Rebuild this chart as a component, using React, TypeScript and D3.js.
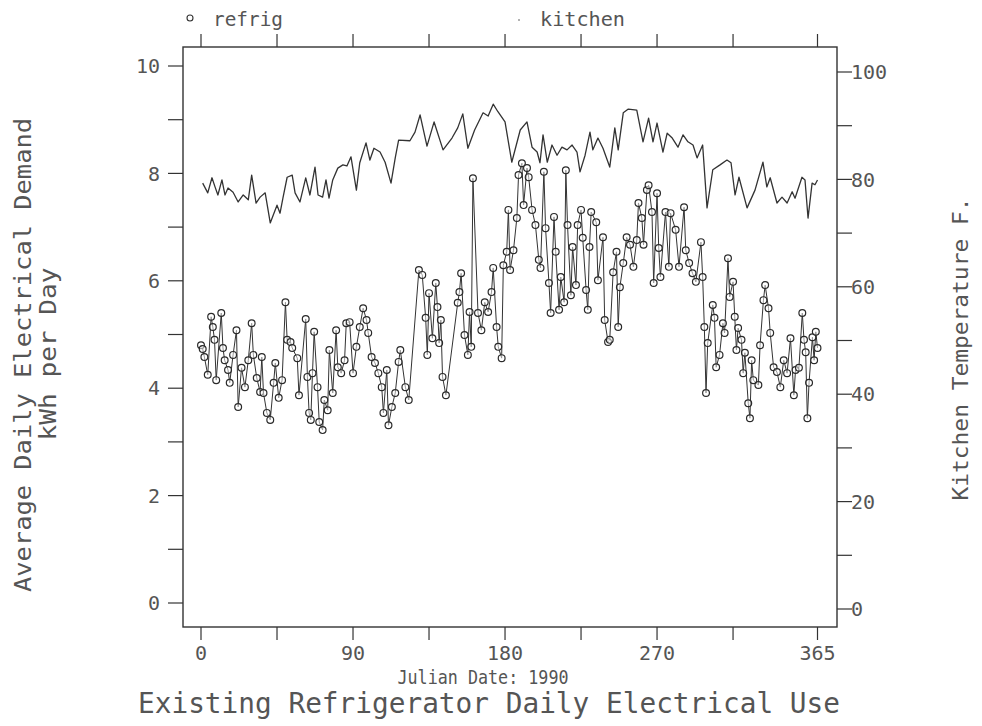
import React from "react";
import * as d3 from "d3";

// Kitchen temperature (deg F) by Julian day
const kitchenDays = [1,4,6.5,8.3,10,12.4,14.2,16,19,22,25,28,30,32.6,35,38,41,45,46.8,48.5,51,54,55.7,58.6,62,64.5,67.5,69.3,72,74,75.8,78,81,84,86.4,88.8,92,94,97.7,100,102.4,106,109,112.5,115,117,123.7,126.7,129.7,133.8,138,143.3,148.6,152,155,158,162,167,170,173,175.8,180,184,189,193,196,199,200.7,202.5,205,207.8,210.8,213.7,216.7,219.7,222.6,224.4,227.4,230.3,232,235,238,242,245,247,250,253,258,261.7,265,267.6,270,273.5,276,279,282.4,285.4,288.3,291.3,293.7,297,299.6,303,307.3,311.4,313.8,316.2,318.5,323.3,328,332.7,335,337,341,344,347,350,351.7,355.8,357.6,359.4,361.8,363.5,365];
const kitchenTemps = [79.3,77.5,80.3,78.6,77.1,79.9,77.1,78.4,77.6,75.8,77.1,76.2,80.8,75.6,76.7,77.5,71.9,75.2,73.7,76.5,80.4,80.8,77.5,75.8,80.3,77.1,82.3,77.1,76.7,79.9,76.5,79.9,82.1,82.7,82.5,84.2,78.0,83.1,86.8,83.6,85.8,85.1,83.2,79.3,84.0,87.3,87.2,88.8,92.0,86.2,90.7,85.5,87.7,89.6,92.2,85.8,89.2,92.4,91.8,94.0,92.6,90.7,83.2,89.2,90.7,86.0,85.1,83.1,88.3,83.2,86.4,84.5,86.0,85.5,86.4,85.1,81.4,84.5,88.8,85.5,87.7,85.8,82.3,89.6,85.5,92.4,93.1,92.9,87.0,91.4,87.0,90.5,85.1,88.6,87.7,86.0,88.3,87.0,86.4,84.0,86.4,74.7,81.8,82.7,83.6,83.1,77.1,80.4,74.7,78.0,83.2,78.6,80.3,75.6,76.7,75.6,77.7,76.5,80.4,79.9,72.8,79.3,79.0,79.9];

// Refrigerator average daily electrical demand (kWh/day) by Julian day
const refrigDays = [0,1,2,4,6,7,8,9,12,13,14,16,17,19,21,22,24,26,28,30,31,33,35,36,37,39,41,43,44,46,48,50,51,53,54,57,58,62,63,64,65,66,67,69,70,72,73,75,76,78,80,81,83,85,86,88,90,92,94,96,98,99,101,103,105,107,108,110,111,113,115,117,118,121,123,129,131,133,134,135,137,139,140,141,142,143,145,152,153,154,156,158,159,160,161,164,166,168,170,172,173,175,176,178,179,181,182,183,185,187,188,190,191,193,194,196,198,200,201,203,204,206,207,209,210,212,213,215,216,217,219,220,222,223,225,226,228,229,230,231,234,235,238,239,241,242,244,246,247,248,250,252,254,256,258,259,261,262,264,265,267,268,270,271,272,275,277,278,281,283,286,287,289,291,293,296,297,298,299,300,303,304,305,307,309,310,312,313,315,316,317,318,320,321,322,324,325,326,327,330,331,333,334,336,337,339,341,343,345,347,349,351,352,354,356,357,358,359,360,362,363,364,365];
const refrigKwh = [4.80,4.73,4.58,4.25,5.33,5.14,4.90,4.15,5.40,4.75,4.52,4.34,4.10,4.62,5.08,3.65,4.38,4.02,4.52,5.21,4.62,4.19,3.93,4.58,3.91,3.54,3.41,4.10,4.47,3.82,4.15,5.60,4.90,4.86,4.75,4.56,3.87,5.29,4.21,3.54,3.41,4.28,5.05,4.02,3.37,3.22,3.78,3.59,4.71,3.91,5.08,4.39,4.28,4.52,5.21,5.23,4.28,4.77,5.14,5.49,5.27,5.03,4.58,4.47,4.28,4.02,3.54,4.34,3.31,3.65,3.91,4.49,4.71,4.02,3.78,6.20,6.11,5.31,4.62,5.77,4.93,5.96,5.51,4.84,5.27,4.21,3.87,5.59,5.79,6.14,4.99,4.62,5.42,4.77,7.91,5.40,5.08,5.60,5.42,5.79,6.24,5.14,4.77,4.56,6.29,6.54,7.32,6.20,6.57,7.17,7.97,8.19,7.41,8.10,7.93,7.32,7.04,6.39,6.24,8.03,6.98,5.96,5.40,7.19,6.54,5.46,6.07,5.60,8.06,7.04,5.73,6.63,5.92,7.04,7.32,6.80,5.83,5.46,6.63,7.28,7.09,6.01,6.81,5.27,4.86,4.90,6.16,6.54,5.14,5.88,6.33,6.81,6.67,6.26,6.76,7.45,7.17,6.67,7.69,7.78,7.28,5.96,7.63,6.61,6.07,7.28,6.26,7.26,6.95,6.26,7.37,6.57,6.33,6.14,5.98,6.72,6.07,5.14,3.91,4.84,5.55,5.31,4.39,4.62,5.21,5.03,6.42,5.70,5.98,5.33,4.71,5.12,4.90,4.28,4.66,3.72,3.44,4.52,4.15,4.06,4.80,5.64,5.92,5.49,5.03,4.39,4.30,4.02,4.52,4.28,4.93,3.87,4.34,4.38,5.40,4.90,4.67,3.44,4.10,4.95,4.52,5.05,4.75];

const leftTicks = [0, 2, 4, 6, 8, 10];
const leftMinor = [1, 3, 5, 7, 9];
const rightTicks = [0, 20, 40, 60, 80, 100];
const rightMinor = [10, 30, 50, 70, 90];
const xLabelTicks = [0, 90, 180, 270, 365];
const xAllTicks = [0, 45, 90, 135, 180, 225, 270, 315, 365];

const FONT = "'DejaVu Sans Mono', 'Liberation Mono', monospace";
const TXT = "#555";
const INK = "#333";

export default function App() {
  const W = 982, H = 726;
  const frame = { l: 183, r: 837, t: 47, b: 627 };
  const x = d3.scaleLinear().domain([0, 365]).range([201, 817.5]);
  const yL = d3.scaleLinear().domain([0, 10]).range([603, 66]);
  const yR = d3.scaleLinear().domain([0, 100]).range([609, 72]);

  const refrig = refrigDays.map((d, i) => ({ d, v: refrigKwh[i] }));
  const kitchen = kitchenDays.map((d, i) => ({ d, v: kitchenTemps[i] }));

  const refrigLine = d3.line<any>().x((p) => x(p.d)).y((p) => yL(p.v));
  const kitchenLine = d3.line<any>().x((p) => x(p.d)).y((p) => yR(p.v));

  return (
    <svg width={W} height={H} style={{ position: "absolute", left: 0, top: 0, display: "block", background: "#fff" }}>
      <rect x={0} y={0} width={W} height={H} fill="#fff" />
      <rect x={frame.l} y={frame.t} width={frame.r - frame.l} height={frame.b - frame.t} fill="none" stroke={INK} strokeWidth={1.4} />

      {[...leftTicks, ...leftMinor].map((t) => (
        <line key={"l" + t} x1={frame.l - 15} x2={frame.l} y1={yL(t)} y2={yL(t)} stroke={INK} strokeWidth={1.2} />
      ))}
      {leftTicks.map((t) => (
        <text key={"lt" + t} x={160} y={yL(t)} dy="0.36em" textAnchor="end" fontFamily={FONT} fontSize={20} fill={TXT}>{t}</text>
      ))}

      {[...rightTicks, ...rightMinor].map((t) => (
        <line key={"r" + t} x1={frame.r} x2={frame.r + 15} y1={yR(t)} y2={yR(t)} stroke={INK} strokeWidth={1.2} />
      ))}
      {rightTicks.map((t) => (
        <text key={"rt" + t} x={851} y={yR(t)} dy="0.36em" textAnchor="start" fontFamily={FONT} fontSize={20} fill={TXT}>{t}</text>
      ))}

      {xAllTicks.map((t) => (
        <g key={"x" + t}>
          <line x1={x(t)} x2={x(t)} y1={frame.b} y2={frame.b + 13} stroke={INK} strokeWidth={1.2} />
          <line x1={x(t)} x2={x(t)} y1={frame.t - 13} y2={frame.t} stroke={INK} strokeWidth={1.2} />
        </g>
      ))}
      {xLabelTicks.map((t) => (
        <text key={"xt" + t} x={x(t)} y={660} textAnchor="middle" fontFamily={FONT} fontSize={20} fill={TXT}>{t}</text>
      ))}

      <path d={kitchenLine(kitchen) || ""} fill="none" stroke={INK} strokeWidth={1.3} strokeLinejoin="round" />

      <path d={refrigLine(refrig) || ""} fill="none" stroke={INK} strokeWidth={1} />
      {refrig.map((p, i) => (
        <circle key={"c" + i} cx={x(p.d)} cy={yL(p.v)} r={3.4} fill="#fff" fillOpacity={0.5} stroke="#2a2a2a" strokeWidth={1.2} />
      ))}

      <circle cx={190} cy={18} r={3} fill="none" stroke={INK} strokeWidth={1.1} />
      <text x={213} y={26} fontFamily={FONT} fontSize={20} fill={TXT} textLength={70} lengthAdjust="spacingAndGlyphs">refrig</text>
      <circle cx={519} cy={20} r={1} fill="#999" />
      <text x={540} y={26} fontFamily={FONT} fontSize={20} fill={TXT} textLength={85} lengthAdjust="spacingAndGlyphs">kitchen</text>

      <text x={483} y={684} textAnchor="middle" fontFamily={FONT} fontSize={20} fill={TXT} textLength={171} lengthAdjust="spacingAndGlyphs">Julian Date: 1990</text>
      <text x={489} y={713} textAnchor="middle" fontFamily={FONT} fontSize={28} fill={TXT} textLength={702} lengthAdjust="spacingAndGlyphs">Existing Refrigerator Daily Electrical Use</text>

      <text transform="translate(31,355) rotate(-90)" textAnchor="middle" fontFamily={FONT} fontSize={23} fill={TXT} textLength={474} lengthAdjust="spacingAndGlyphs">Average Daily Electrical Demand</text>
      <text transform="translate(56,354) rotate(-90)" textAnchor="middle" fontFamily={FONT} fontSize={23} fill={TXT} textLength={173} lengthAdjust="spacingAndGlyphs">kWh per Day</text>
      <text transform="translate(968,349) rotate(-90)" textAnchor="middle" fontFamily={FONT} fontSize={21} fill={TXT} textLength={303} lengthAdjust="spacingAndGlyphs">Kitchen Temperature F.</text>
    </svg>
  );
}
